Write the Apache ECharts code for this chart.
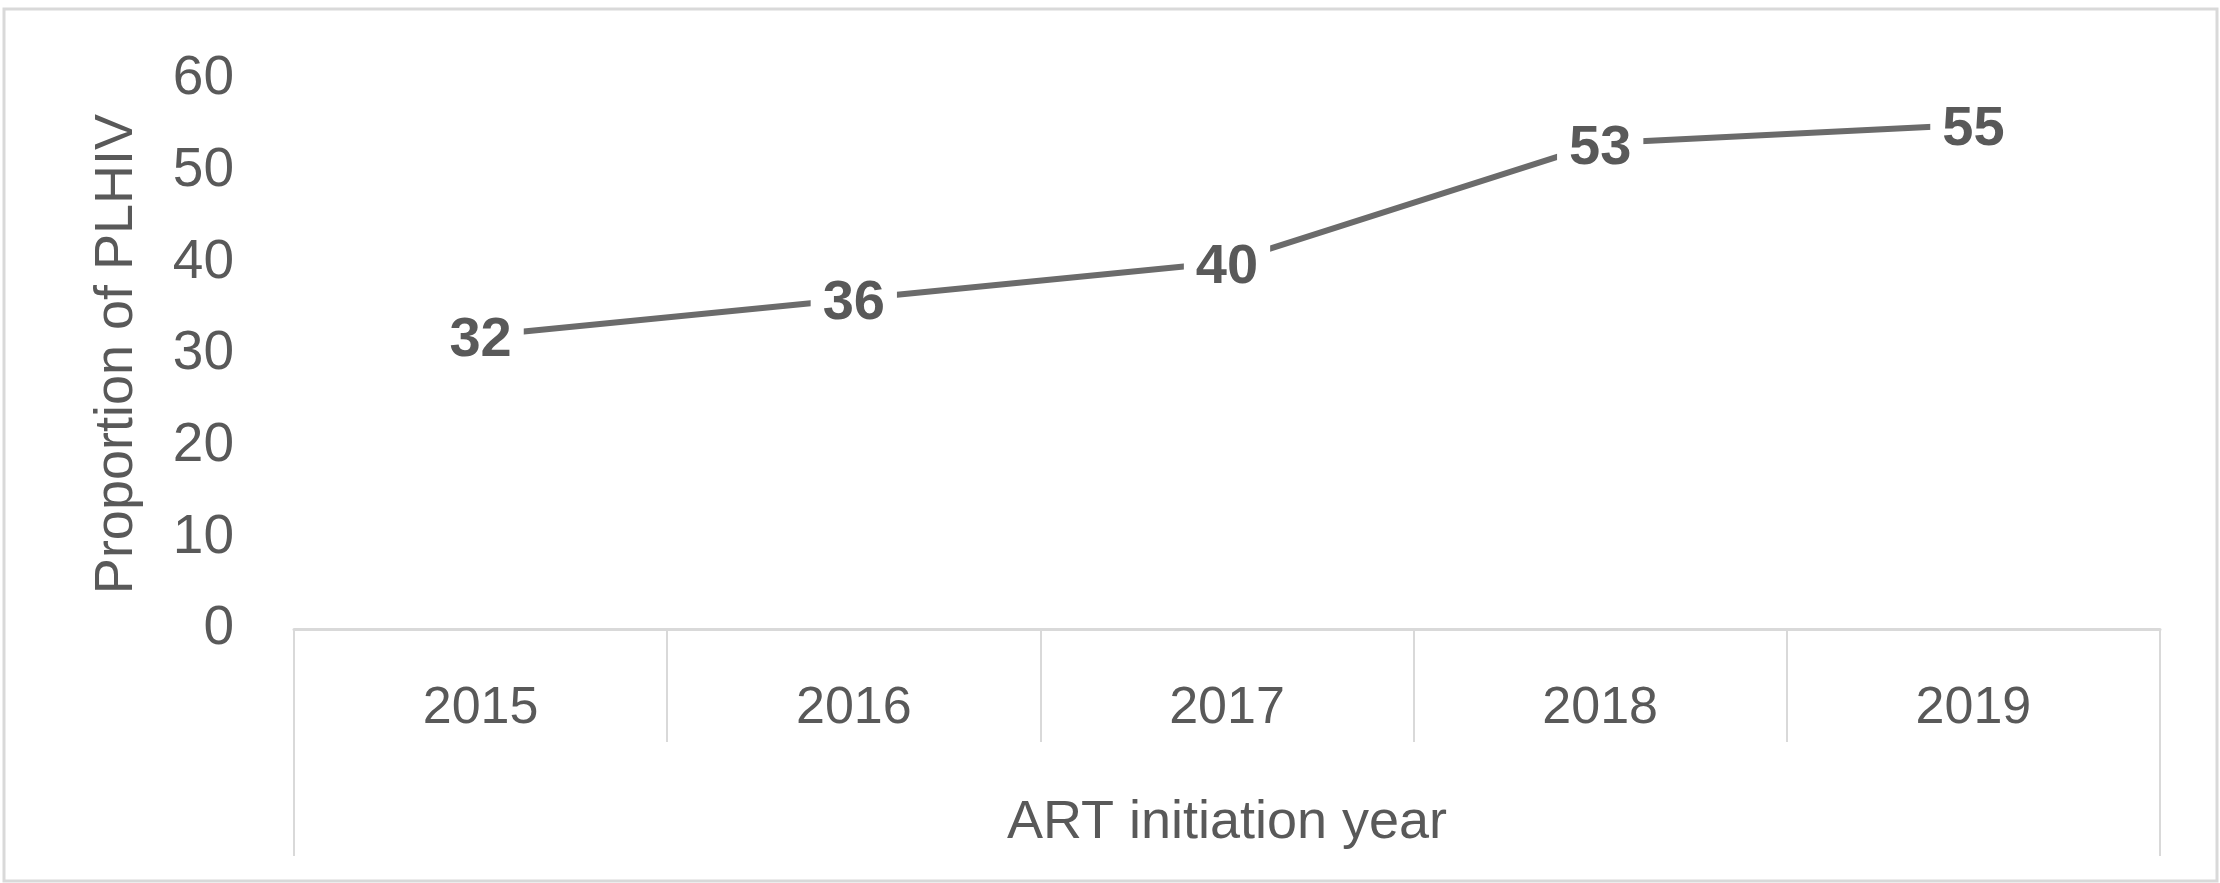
<!DOCTYPE html>
<html>
<head>
<meta charset="utf-8">
<style>
  html, body { margin: 0; padding: 0; background: #ffffff; }
  #chart { width: 2220px; height: 883px; }
</style>
<script src="https://cdn.jsdelivr.net/npm/echarts@6/dist/echarts.min.js"></script>
</head>
<body>
<div id="chart"></div>
<script>
const years = ['2015', '2016', '2017', '2018', '2019'];
const proportion = [32, 36, 40, 53, 55];
const groupLabels = ['ART initiation year'];
const yAxisTitle = 'Proportion of PLHIV';
const yMin = 0, yMax = 60, yStep = 10;

const FONT = '"Liberation Sans", Arial, sans-serif';
const TEXT = '#595959';
const RULE = '#d9d9d9';

const chart = echarts.init(document.getElementById('chart'), null, { renderer: 'canvas' });
chart.setOption({
  backgroundColor: '#ffffff',
  animation: false,
  textStyle: { fontFamily: FONT },
  grid: { left: 294, right: 60, top: 79, bottom: 254, containLabel: false },
  graphic: [{
    type: 'rect',
    shape: { x: 4, y: 9, width: 2213, height: 872 },
    style: { fill: 'none', stroke: RULE, lineWidth: 3 },
    silent: true
  }],
  xAxis: [{
    type: 'category',
    data: years,
    boundaryGap: true,
    position: 'bottom',
    axisLine: { show: true, lineStyle: { color: RULE, width: 3 } },
    axisTick: { show: true, alignWithLabel: false, length: 113, lineStyle: { color: RULE, width: 2 } },
    axisLabel: { color: TEXT, fontSize: 52, fontFamily: FONT, margin: 54 },
    splitLine: { show: false }
  }, {
    type: 'category',
    data: groupLabels,
    boundaryGap: true,
    position: 'bottom',
    axisLine: { show: false },
    axisTick: { show: true, alignWithLabel: false, length: 227, lineStyle: { color: RULE, width: 2 } },
    axisLabel: { color: TEXT, fontSize: 54, fontFamily: FONT, margin: 167 },
    splitLine: { show: false }
  }],
  yAxis: {
    type: 'value',
    min: yMin, max: yMax, interval: yStep,
    name: yAxisTitle,
    nameLocation: 'middle',
    nameGap: 150,
    nameTextStyle: { color: TEXT, fontSize: 54, fontFamily: FONT },
    axisLine: { show: false },
    axisTick: { show: false },
    splitLine: { show: false },
    axisLabel: { color: TEXT, fontSize: 55, fontFamily: FONT, margin: 60, padding: [6, 0, 0, 0] }
  },
  series: [{
    type: 'line',
    xAxisIndex: 0,
    data: proportion,
    symbol: 'circle',
    symbolSize: 1,
    showSymbol: true,
    itemStyle: { color: 'rgba(0,0,0,0)' },
    lineStyle: { color: '#6b6b6b', width: 6 },
    label: {
      show: true,
      position: 'inside',
      offset: [0, 5],
      color: TEXT,
      fontSize: 56,
      fontWeight: 'bold',
      fontFamily: FONT,
      backgroundColor: '#ffffff',
      padding: [2, 12, 2, 12]
    },
    z: 3
  }]
});
</script>
</body>
</html>
